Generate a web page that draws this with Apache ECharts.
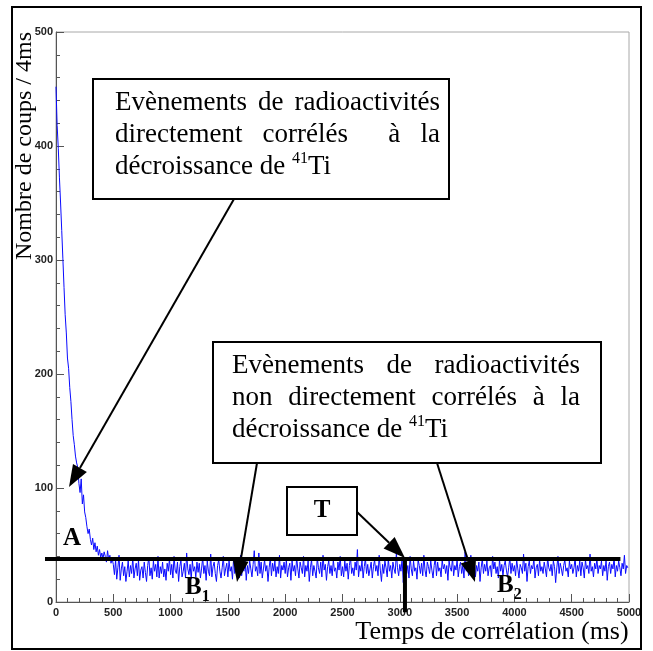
<!DOCTYPE html>
<html><head><meta charset="utf-8">
<script src="https://cdn.jsdelivr.net/npm/echarts@6/dist/echarts.min.js"></script>
<style>html,body{margin:0;padding:0;background:#fff}#c{width:653px;height:651px}</style>
</head><body><div id="c"></div>
<script>
// ---- data (counts per bin) ----
const BIN_MS = 10;
const decayCounts = [452,418,398,372,350,326,301,276,252,236,214,205,188,176,160,146,138,128,122,118,
  104,96,108,86,94,79,74,66,60,64,55,50,56,46,52,44,49,41,46,39,43,38,44,40,35,45,37,41,34,38];
const backgroundCounts = [
  33,24,37,20,30,41,19,29,35,23,31,18,27,36,22,32,25,39,21,29,34,23,37,19,28,
  31,21,35,26,18,32,39,23,30,20,36,27,33,22,40,21,31,25,35,22,29,19,34,27,38,
  24,33,21,40,28,25,35,18,31,37,22,27,34,21,43,29,24,33,20,36,27,31,22,35,26,
  34,21,29,39,25,32,19,36,27,23,42,22,31,35,25,18,32,37,27,21,30,40,23,29,34,
  22,36,27,31,20,39,25,33,28,35,21,41,23,31,27,37,19,32,25,36,29,22,33,45,27,
  31,23,43,25,35,21,29,37,27,32,18,30,39,23,34,27,36,22,31,25,41,21,32,28,35,
  25,37,22,30,34,19,36,27,32,23,39,29,21,35,30,25,40,22,32,27,36,18,30,37,23,
  32,27,21,39,30,25,35,22,41,28,33,19,31,36,25,32,23,37,27,30,21,35,28,40,23,
  31,22,36,27,34,20,32,39,25,30,23,35,28,46,22,32,27,36,21,31,38,25,33,23,29,
  35,21,31,37,27,32,23,41,28,18,33,25,36,30,22,38,27,32,21,35,29,25,43,30,23,
  33,27,38,17,31,35,25,32,21,40,29,23,36,27,30,20,37,32,25,34,23,41,28,22,35,
  31,25,36,28,21,32,39,23,35,27,30,22,37,29,33,25,32,19,36,30,27,39,23,32,28,
  37,22,31,35,25,32,21,44,27,33,23,30,41,25,29,36,22,32,27,35,18,30,38,25,33,
  27,36,23,30,32,22,40,29,35,25,31,21,37,27,33,23,32,36,28,22,30,39,25,34,27,
  32,23,37,29,21,33,30,25,42,27,34,18,31,36,25,32,29,38,21,30,33,23,37,27,31,
  25,35,29,22,39,30,27,33,23,36,31,17,30,40,25,34,29,23,32,37,27,30,22,36,29,
  33,25,30,39,22,32,27,36,23,35,30,21,37,29,32,25,42,27,31,22,34,29,38,25,32,
  29,36,23,32,27,37,19,31,35,25,33,29,39,22,32,27,36,30,23,34,29,41,25,32,30];
const X_MIN = 0, X_MAX = 5000, X_STEP = 500;
const Y_MIN = 0, Y_MAX = 500, Y_STEP = 100;
const BG_LEVEL = 37.7;                 // horizontal line level
const BG_LINE_FROM = -96, BG_LINE_TO = 4925;
const T_CUT = 3045;                    // vertical cut line
const T_LINE_TOP = 39, T_LINE_BOTTOM = -9;
const X_TITLE = 'Temps de corrélation (ms)';
const Y_TITLE = 'Nombre de coups / 4ms';

const counts = decayCounts.concat(backgroundCounts);
const seriesData = counts.map((v, i) => [i * BIN_MS, v]);

const chart = echarts.init(document.getElementById('c'), null, {renderer: 'canvas'});
const tickLabel = {color: '#222', fontFamily: '"Liberation Sans", Arial, sans-serif', fontWeight: 'bold', fontSize: 11,
  formatter: v => String(v)};
chart.setOption({
  animation: false,
  grid: {left: 56, top: 32, right: 24, bottom: 49, show: true, borderColor: '#a8a8a8', borderWidth: 1},
  xAxis: {
    type: 'value', min: X_MIN, max: X_MAX, interval: X_STEP,
    axisLine: {lineStyle: {color: '#555', width: 1}},
    axisTick: {inside: true, length: 8, lineStyle: {color: '#555'}},
    minorTick: {show: true, splitNumber: 5, length: 4, lineStyle: {color: '#555'}},
    splitLine: {show: false},
    axisLabel: Object.assign({margin: 5}, tickLabel)
  },
  yAxis: {
    type: 'value', min: Y_MIN, max: Y_MAX, interval: Y_STEP,
    axisLine: {show: true, lineStyle: {color: '#555', width: 1}},
    axisTick: {show: true, inside: true, length: 8, lineStyle: {color: '#555'}},
    minorTick: {show: true, splitNumber: 5, length: 4, lineStyle: {color: '#555'}},
    splitLine: {show: false},
    axisLabel: Object.assign({margin: 3}, tickLabel)
  },
  series: [{
    type: 'line', data: seriesData, step: 'end', showSymbol: false,
    lineStyle: {color: '#0a0aff', width: 1}, z: 2
  }]
});

// ---- annotations ----
const SERIF = '"Liberation Serif", "Times New Roman", serif';
const mctx = document.createElement('canvas').getContext('2d');
function tw(s, font) { mctx.font = font; return mctx.measureText(s).width; }
function txt(s, x, y, font, align, valign, extra) {
  return Object.assign({type: 'text', z: 120, style: {text: s, x: x, y: y, font: font, fill: '#000',
    textAlign: align || 'left', textVerticalAlign: valign || 'middle', align: align || 'left', verticalAlign: valign || 'middle'}}, extra || {});
}
function justify(line, font, left, right, y) {
  const words = line.split(' ');
  const widths = words.map(w => tw(w, font));
  const total = widths.reduce((a, b) => a + b, 0);
  const gap = (right - left - total) / (words.length - 1);
  const out = []; let x = left;
  words.forEach((w, i) => { if (w) out.push(txt(w, x, y, font)); x += widths[i] + gap; });
  return out;
}
function lastLine(font, supFont, left, y) {
  const a = 'décroissance de ';
  const wa = tw(a, font), ws = tw('41', supFont);
  return [txt(a, left, y, font), txt('41', left + wa, y - 8, supFont), txt('Ti', left + wa + ws, y, font)];
}
function arrow(x1, y1, x2, y2) {
  const L = 22, H = 8;
  const dx = x2 - x1, dy = y2 - y1, d = Math.hypot(dx, dy);
  const ux = dx / d, uy = dy / d;
  const bx = x2 - ux * L, by = y2 - uy * L;
  return [
    {type: 'line', z: 110, shape: {x1: x1, y1: y1, x2: bx, y2: by}, style: {stroke: '#000', lineWidth: 2}},
    {type: 'polygon', z: 110, shape: {points: [[x2, y2], [bx - uy * H, by + ux * H], [bx + uy * H, by - ux * H]]}, style: {fill: '#000'}}
  ];
}
function box(x, y, w, h) {
  return {type: 'rect', z: 105, shape: {x: x, y: y, width: w, height: h}, style: {fill: '#fff', stroke: '#000', lineWidth: 2}};
}

const F = '27px ' + SERIF, FS = '16px ' + SERIF, FB = 'bold 25px ' + SERIF, FBS = 'bold 16px ' + SERIF;
const FT = '26px ' + SERIF;
const p1 = chart.convertToPixel({xAxisIndex: 0, yAxisIndex: 0}, [BG_LINE_FROM, BG_LEVEL]);
const p2 = chart.convertToPixel({xAxisIndex: 0, yAxisIndex: 0}, [BG_LINE_TO, BG_LEVEL]);
const p3 = chart.convertToPixel({xAxisIndex: 0, yAxisIndex: 0}, [T_CUT, T_LINE_TOP]);
const p4 = chart.convertToPixel({xAxisIndex: 0, yAxisIndex: 0}, [T_CUT, T_LINE_BOTTOM]);

let g = [];
g.push({type: 'rect', z: 100, shape: {x: 12, y: 7, width: 629, height: 642}, style: {fill: 'none', stroke: '#000', lineWidth: 2}});
g.push({type: 'line', z: 108, shape: {x1: p1[0], y1: p1[1], x2: p2[0], y2: p2[1]}, style: {stroke: '#000', lineWidth: 4}});
g.push({type: 'line', z: 108, shape: {x1: p3[0], y1: p3[1], x2: p4[0], y2: p4[1]}, style: {stroke: '#000', lineWidth: 4}});
// box 1
g.push(box(93, 79, 356, 120));
g = g.concat(justify('Evènements de radioactivités', F, 115, 440, 103));
g = g.concat(justify('directement corrélés  à la', F, 115, 440, 135));
g = g.concat(lastLine(F, FS, 115, 167));
g = g.concat(arrow(234, 199, 69, 487));
// box 2
g.push(box(213, 342, 388, 121));
g = g.concat(justify('Evènements de radioactivités', F, 232, 580, 366));
g = g.concat(justify('non directement corrélés à la', F, 232, 580, 398));
g = g.concat(lastLine(F, FS, 232, 430));
g = g.concat(arrow(257, 463, 237, 582));
g = g.concat(arrow(437, 463, 475, 582));
// box T
g.push(box(287, 487, 70, 48));
g.push(txt('T', 322, 511, FB, 'center', 'middle'));
g = g.concat(arrow(357, 512, 405, 558));
// labels
g.push(txt('A', 72, 539, FB, 'center', 'middle'));
g.push(txt('B', 185, 588, FB));
g.push(txt('1', 185 + tw('B', FB), 597, FBS));
g.push(txt('B', 497, 586, FB));
g.push(txt('2', 497 + tw('B', FB), 595, FBS));
// axis titles
g.push(txt(X_TITLE, 492, 632, FT, 'center', 'middle'));
g.push({type: 'text', z: 120, x: 25, y: 146, rotation: Math.PI / 2,
  style: {text: Y_TITLE, x: 0, y: 0, font: '24px ' + SERIF, fill: '#000', textAlign: 'center', textVerticalAlign: 'middle', align: 'center', verticalAlign: 'middle'}});

chart.setOption({graphic: {elements: g}});
</script>
</body></html>
